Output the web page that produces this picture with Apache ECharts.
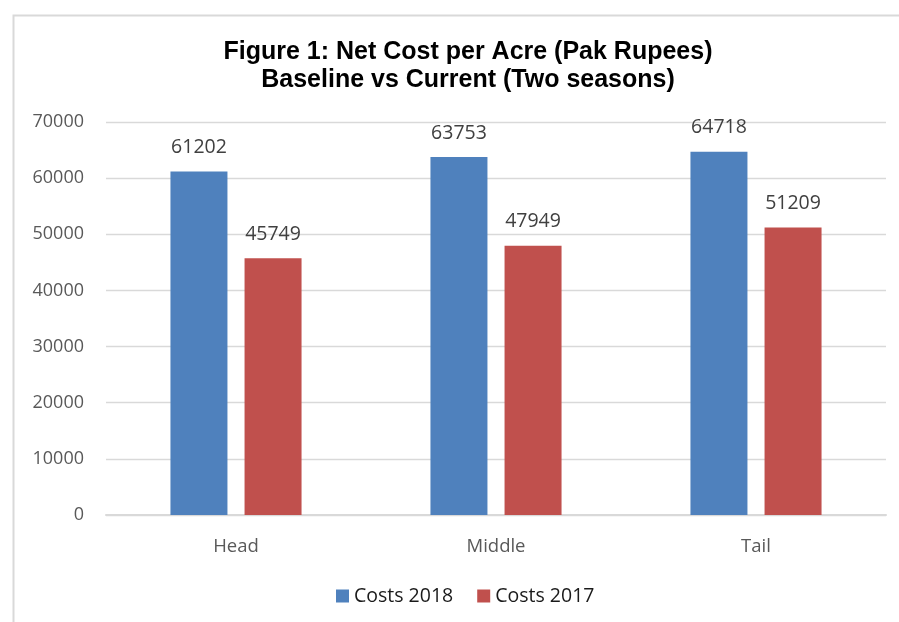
<!DOCTYPE html>
<html>
<head>
<meta charset="utf-8">
<script src="https://cdn.jsdelivr.net/npm/echarts@6/dist/echarts.min.js"></script>
<style>html,body{margin:0;padding:0;background:#fff}#c{width:899px;height:622px}</style>
</head>
<body>
<div id="c"></div>
<script>
const categories = ['Head', 'Middle', 'Tail'];
const costs2018 = [61202, 63753, 64718];
const costs2017 = [45749, 47949, 51209];
const yTicks = { min: 0, max: 70000, interval: 10000 };
const seriesNames = ['Costs 2018', 'Costs 2017'];

const FONT = '"Open Sans", sans-serif';
const chart = echarts.init(document.getElementById('c'), null, { renderer: 'canvas' });
chart.setOption({
  animation: false,
  backgroundColor: '#fff',
  graphic: [{
    type: 'rect', left: 11, top: 13, shape: { width: 1000, height: 700 },
    style: { fill: 'none', stroke: '#D9D9D9', lineWidth: 2 }, silent: true, z: -1
  }],
  title: {
    text: 'Figure 1: Net Cost per Acre (Pak Rupees)\nBaseline vs Current (Two seasons)',
    left: 463, top: 33, textAlign: 'center',
    textStyle: { fontFamily: '"Liberation Sans", Arial, sans-serif', fontWeight: 'bold', fontSize: 25, lineHeight: 28, color: '#000' }
  },
  legend: {
    data: seriesNames, left: 331, top: 581, itemWidth: 13, itemHeight: 13, itemGap: 24,
    icon: 'rect',
    textStyle: { fontFamily: FONT, fontSize: 19.5, color: '#1a1a1a' }
  },
  grid: { left: 106, right: 13, top: 122, bottom: 107, containLabel: false },
  xAxis: {
    type: 'category', data: categories,
    axisLine: { lineStyle: { color: '#D9D9D9', width: 2 } },
    axisTick: { show: false },
    axisLabel: { fontFamily: FONT, fontSize: 18.5, color: '#595959', margin: 22 }
  },
  yAxis: {
    type: 'value', min: yTicks.min, max: yTicks.max, interval: yTicks.interval,
    axisLine: { show: false }, axisTick: { show: false },
    splitLine: { lineStyle: { color: '#D9D9D9', width: 1.3 } },
    axisLabel: { fontFamily: FONT, fontSize: 18, color: '#595959', margin: 22, formatter: v => String(v) }
  },
  series: [
    { name: seriesNames[0], type: 'bar', data: costs2018, barWidth: 57, barGap: '30%',
      itemStyle: { color: '#4F81BD' },
      label: { show: true, position: 'top', distance: 14, fontFamily: FONT, fontSize: 19.5, color: '#404040' } },
    { name: seriesNames[1], type: 'bar', data: costs2017, barWidth: 57, barGap: '30%',
      itemStyle: { color: '#C0504D' },
      label: { show: true, position: 'top', distance: 14, fontFamily: FONT, fontSize: 19.5, color: '#404040' } }
  ]
});
</script>
</body>
</html>
